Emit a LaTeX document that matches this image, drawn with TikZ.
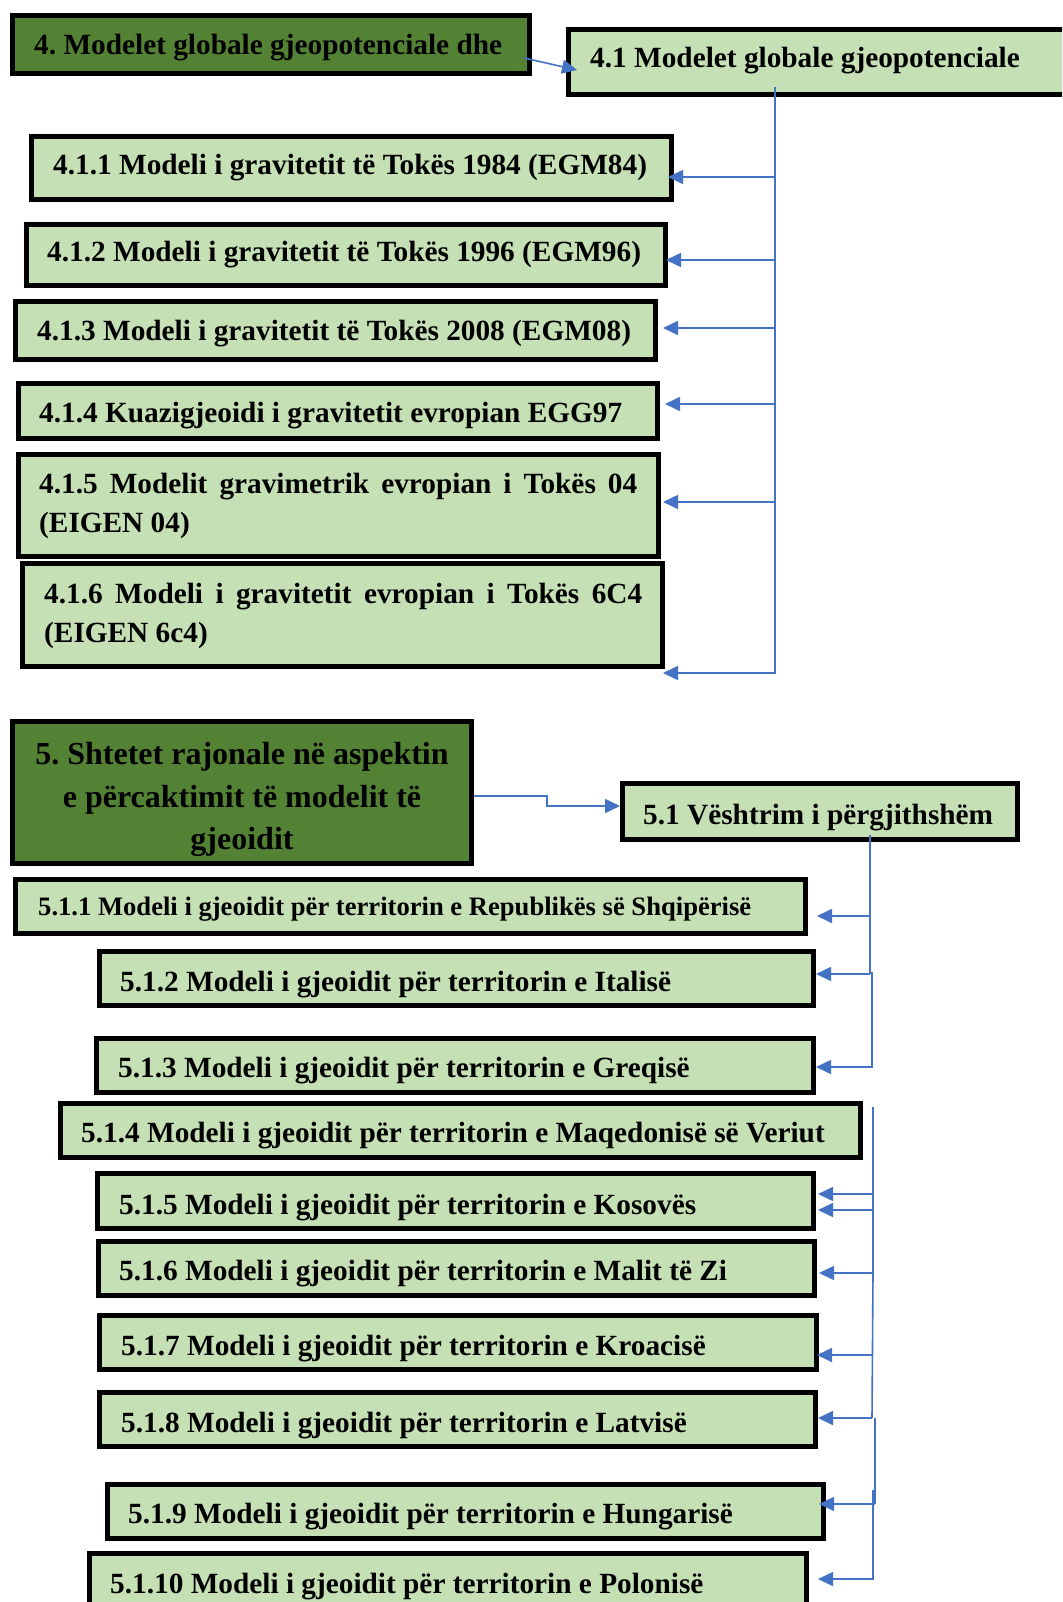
\documentclass[tikz,border=0pt]{standalone}
\usepackage{fontspec}
\setmainfont{Liberation Serif}
\usetikzlibrary{arrows.meta}
\definecolor{lgreen}{HTML}{C5E0B4}
\definecolor{dgreen}{HTML}{548235}
\definecolor{lblue}{HTML}{4472C4}
\newcommand\mybox[6]{\node[#2, anchor=north west, minimum width={(#5-#3-5)*1pt}, minimum height={(#6-#4-5)*1pt}] (#1) at ({#3+2.5},{#4+2.5}) {};}
\frenchspacing
\begin{document}
\frenchspacing
\begin{tikzpicture}[x=1pt,y=-1pt,
  boxbase/.style={draw=black, line width=5pt, rectangle, inner sep=0pt, outer sep=0pt},
  lbox/.style={boxbase, fill=lgreen},
  dbox/.style={boxbase, fill=dgreen},
  txt/.style={inner sep=0pt, font=\bfseries\frenchspacing\fontsize{29.3}{35}\selectfont, anchor=base west},
  stxt/.style={txt, font=\bfseries\frenchspacing\fontsize{26.6}{32}\selectfont},
  btxt/.style={inner sep=0pt, font=\bfseries\frenchspacing\fontsize{32}{40}\selectfont, anchor=base},
  conn/.style={draw=lblue, line width=1.6pt},
  arr/.style={conn, -{Triangle[length=15pt,width=14pt]}},
]
\useasboundingbox (0,0) rectangle (1062,1602);
\clip (0,0) rectangle (1062,1602);
\fill[white] (0,0) rectangle (1062,1602);

% ---------- section 4 boxes
\mybox{b4}{dbox}{10}{13}{532}{76}
\mybox{b41}{lbox}{566}{27}{1075}{97}
\mybox{b411}{lbox}{29}{134}{674}{202}
\mybox{b412}{lbox}{24}{222}{668}{288}
\mybox{b413}{lbox}{13}{299}{658}{362}
\mybox{b414}{lbox}{16}{381}{660}{441}
\mybox{b415}{lbox}{16}{452}{661}{559}
\mybox{b416}{lbox}{20}{561}{665}{669}

\node[txt] (t4) at (34,55) {4. Modelet globale gjeopotenciale dhe};
\node[txt] (t41) at (590,68) {4.1 Modelet globale gjeopotenciale};
\node[txt] (t411) at (53,175) {4.1.1 Modeli i gravitetit të Tokës 1984 (EGM84)};
\node[txt] (t412) at (47,262) {4.1.2 Modeli i gravitetit të Tokës 1996 (EGM96)};
\node[txt] (t413) at (37,340) {4.1.3 Modeli i gravitetit të Tokës 2008 (EGM08)};
\node[txt] (t414) at (39,422) {4.1.4 Kuazigjeoidi i gravitetit evropian EGG97};
\node[txt] (t415a) at (39,493) {\makebox[598pt][s]{4.1.5 Modelit gravimetrik evropian i Tokës 04}};
\node[txt] (t415b) at (39,532) {(EIGEN 04)};
\node[txt] (t416a) at (44,603) {\makebox[598pt][s]{4.1.6 Modeli i gravitetit evropian i Tokës 6C4}};
\node[txt] (t416b) at (44,642) {(EIGEN 6c4)};

% ---------- section 4 connectors
\coordinate (c4s) at (524,58);
\coordinate (c41w) at (577,70);
\draw[arr] (c4s) -- (c41w);

\coordinate (k0) at (775,87);
\coordinate (k6) at (775,673);
\coordinate (e416) at (663,673);
\draw[arr] (k0) -- (k6) -- (e416);
\foreach \n/\y/\tx in {411/177/668, 412/260/666, 413/328/663, 414/404/665, 415/502/663} {
  \coordinate (s\n) at (775,\y);
  \coordinate (e\n) at (\tx,\y);
  \draw[arr] (s\n) -- (e\n);
}

% ---------- section 5 boxes
\mybox{b5}{dbox}{10}{719}{474}{866}
\mybox{b51}{lbox}{620}{781}{1020}{842}
\mybox{b511}{lbox}{13}{877}{808}{936}
\mybox{b512}{lbox}{97}{949}{816}{1008}
\mybox{b513}{lbox}{94}{1036}{816}{1095}
\mybox{b514}{lbox}{58}{1101}{863}{1160}
\mybox{b515}{lbox}{95}{1171}{816}{1231}
\mybox{b516}{lbox}{96}{1239}{817}{1298}
\mybox{b517}{lbox}{97}{1313}{819}{1372}
\mybox{b518}{lbox}{97}{1390}{818}{1449}
\mybox{b519}{lbox}{105}{1482}{826}{1541}
\mybox{b5110}{lbox}{87}{1551}{809}{1625}

\node[btxt] (t5a) at (242,764) {5. Shtetet rajonale në aspektin};
\node[btxt] (t5b) at (242,807) {e përcaktimit të modelit të};
\node[btxt] (t5c) at (242,849) {gjeoidit};
\node[txt] (t51) at (643,824) {5.1 Vështrim i përgjithshëm};
\node[stxt] (t511) at (38,915) {5.1.1 Modeli i gjeoidit për territorin e Republikës së Shqipërisë};
\node[txt] (t512) at (120,991) {5.1.2 Modeli i gjeoidit për territorin e Italisë};
\node[txt] (t513) at (118,1077) {5.1.3 Modeli i gjeoidit për territorin e Greqisë};
\node[txt] (t514) at (81,1142) {5.1.4 Modeli i gjeoidit për territorin e Maqedonisë së Veriut};
\node[txt] (t515) at (119,1214) {5.1.5 Modeli i gjeoidit për territorin e Kosovës};
\node[txt] (t516) at (119,1280) {5.1.6 Modeli i gjeoidit për territorin e Malit të Zi};
\node[txt] (t517) at (121,1355) {5.1.7 Modeli i gjeoidit për territorin e Kroacisë};
\node[txt] (t518) at (121,1432) {5.1.8 Modeli i gjeoidit për territorin e Latvisë};
\node[txt] (t519) at (128,1523) {5.1.9 Modeli i gjeoidit për territorin e Hungarisë};
\node[txt] (t5110) at (110,1593) {5.1.10 Modeli i gjeoidit për territorin e Polonisë};

% ---------- section 5 connectors
\coordinate (p5a) at (474,796);
\coordinate (p5b) at (620,806);
\draw[arr] (p5a) -- ++(73,0) |- (p5b);

\coordinate (q0) at (870,835);
\coordinate (q1) at (870,974);
\draw[conn] (q0) -- (q1);
\coordinate (q2) at (872,972);
\coordinate (q3) at (872,1067);
\coordinate (e513) at (816,1067);
\draw[arr] (q2) -- (q3) -- (e513);
\coordinate (q4) at (873,1107);
\coordinate (q5) at (873,1273);
\draw[conn] (q4) -- (q5);
\coordinate (q6) at (872,1418);
\draw[conn] (q5) -- (q6);
\coordinate (q7) at (875,1418);
\coordinate (q8) at (875,1504);
\draw[conn] (q7) -- (q8);
\coordinate (q9) at (873,1490);
\coordinate (q10) at (873,1579);
\coordinate (e5110) at (818,1579);
\draw[arr] (q9) -- (q10) -- (e5110);

\foreach \n/\x/\y/\tx in {511/870/916/817, 512/870/974/816, 515a/873/1194/818, 515b/873/1210/818, 516/873/1273/819, 517/872/1355/817, 518/872/1418/818, 519/875/1504/819} {
  \coordinate (s\n) at (\x,\y);
  \coordinate (e\n) at (\tx,\y);
  \draw[arr] (s\n) -- (e\n);
}
\end{tikzpicture}
\end{document}
